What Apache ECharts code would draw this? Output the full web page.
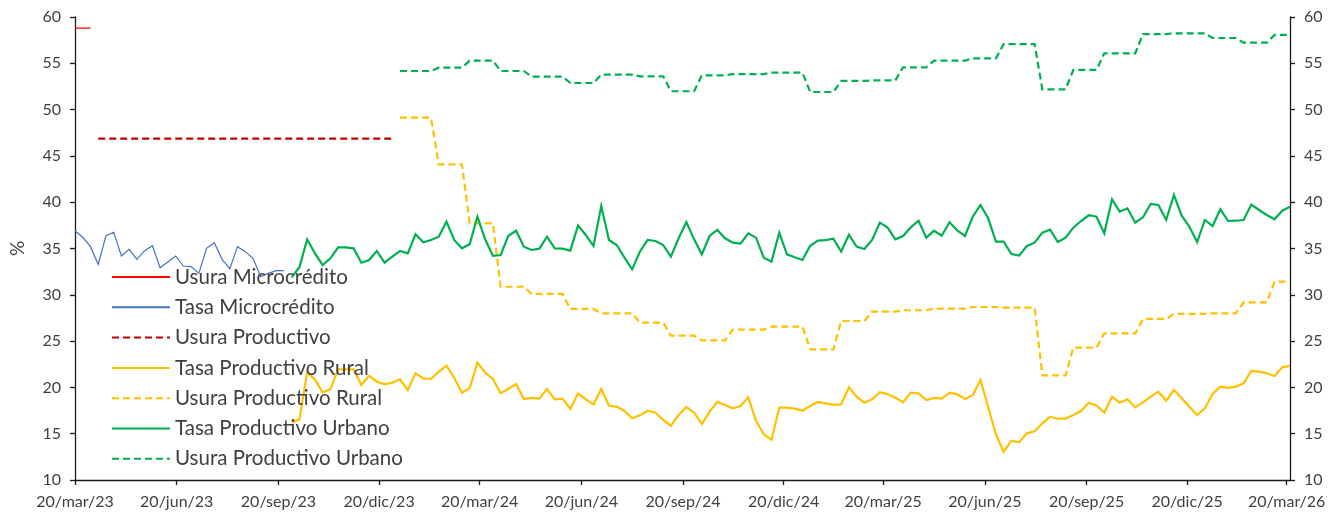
<!DOCTYPE html>
<html><head><meta charset="utf-8">
<script src="https://cdn.jsdelivr.net/npm/echarts@6/dist/echarts.min.js"></script>
<style>html,body{margin:0;padding:0;background:#fff}#c{width:1344px;height:515px}</style>
</head><body><div id="c"></div>
<script>
// ---- tick labels (quarterly) ----
const tickLabels = ['20/mar/23','20/jun/23','20/sep/23','20/dic/23','20/mar/24','20/jun/24','20/sep/24','20/dic/24','20/mar/25','20/jun/25','20/sep/25','20/dic/25','20/mar/26'];
const tickDates = ['2023-03-20','2023-06-20','2023-09-20','2023-12-20','2024-03-20','2024-06-20','2024-09-20','2024-12-20','2025-03-20','2025-06-20','2025-09-20','2025-12-20','2026-03-20'];
const startDate = '2023-03-20';
const lastWeek = 157; // weekly observations, index 0..157

// ---- series (weekly values, each with its first week index) ----
const usuraMicroStart = 0;
const usuraMicro = [58.8, 58.8, 58.8];

const tasaMicroStart = 0;
const tasaMicro = [36.92, 36.21, 35.20, 33.29, 36.38, 36.75, 34.19, 34.91, 33.83, 34.77, 35.30, 32.93, 33.54, 34.19, 33.11, 33.04, 32.32, 35.02, 35.63, 33.83, 32.82, 35.20, 34.66, 33.94, 31.96, 32.32, 32.61, 32.61];

const usuraProdStart = 3;
const usuraProd = [46.86, 46.86, 46.86, 46.86, 46.86, 46.86, 46.86, 46.86, 46.86, 46.86, 46.86, 46.86, 46.86, 46.86, 46.86, 46.86, 46.86, 46.86, 46.86, 46.86, 46.86, 46.86, 46.86, 46.86, 46.86, 46.86, 46.86, 46.86, 46.86, 46.86, 46.86, 46.86, 46.86, 46.86, 46.86, 46.86, 46.86, 46.86, 46.86];

const tasaRuralStart = 28;
const tasaRural = [16.20, 16.55, 21.59, 20.87, 19.47, 19.79, 21.95, 21.95, 21.95, 20.26, 21.26, 20.62, 20.33, 20.51, 20.87, 19.72, 21.52, 20.98, 20.91, 21.70, 22.35, 21.05, 19.43, 19.90, 22.67, 21.59, 20.91, 19.36, 19.86, 20.37, 18.75, 18.86, 18.78, 19.83, 18.71, 18.78,
  17.67, 19.36, 18.71, 18.17, 19.83, 18.02, 17.92, 17.45, 16.66, 16.98, 17.48, 17.27, 16.48, 15.87, 17.02, 17.88, 17.27, 16.05, 17.38, 18.43, 18.10, 17.74, 17.99, 18.93, 16.40, 14.94, 14.32, 17.81, 17.81, 17.70, 17.48, 17.99, 18.43,
  18.28, 18.13, 18.17, 20.01, 19.00, 18.35, 18.71, 19.47, 19.29, 18.89, 18.39, 19.43, 19.36, 18.64, 18.86, 18.78, 19.43, 19.25, 18.75, 19.15, 20.80, 17.85, 14.94, 13.06, 14.25, 14.07, 15.04, 15.26, 16.12, 16.84, 16.62, 16.62, 17.02, 17.45, 18.35,
  18.06, 17.27, 19.00, 18.35, 18.71, 17.85, 18.39, 19.00, 19.54, 18.57, 19.72, 18.82, 17.92, 17.02, 17.74, 19.29, 20.08, 19.94, 20.08, 20.44, 21.77, 21.70, 21.52, 21.23, 22.17, 22.31];

const usuraRuralStart = 42;
const usuraRural = [49.13, 49.13, 49.13, 49.13, 49.13, 44.09, 44.09, 44.09, 44.09, 37.72, 37.72, 37.72, 37.72, 30.87, 30.87, 30.87, 30.87,
  30.09, 30.09, 30.09, 30.09, 30.09, 28.47, 28.47, 28.47, 28.47, 28.00, 28.00, 28.00, 28.00, 28.00, 26.99, 26.99, 26.99, 26.99,
  25.59, 25.59, 25.59, 25.59, 25.08, 25.08, 25.08, 25.08, 26.24, 26.24, 26.24, 26.24, 26.24, 26.56, 26.56, 26.56, 26.56, 26.56,
  24.11, 24.11, 24.11, 24.11, 27.17, 27.17, 27.17, 27.17, 28.18, 28.18, 28.18, 28.18, 28.33, 28.33, 28.33, 28.33,
  28.50, 28.50, 28.50, 28.50, 28.50, 28.68, 28.68, 28.68, 28.68, 28.61, 28.61, 28.61, 28.61, 28.61, 21.30, 21.30, 21.30, 21.30,
  24.29, 24.29, 24.29, 24.29, 25.84, 25.84, 25.84, 25.84, 25.84, 27.39, 27.39, 27.39, 27.39, 27.93, 27.93, 27.93, 27.93, 27.93,
  28.00, 28.00, 28.00, 28.00, 29.19, 29.19, 29.19, 29.19, 31.42, 31.42, 31.42];

const tasaUrbanoStart = 28;
const tasaUrbano = [31.89, 32.97, 35.99, 34.48, 33.22, 33.94, 35.13, 35.13, 35.02, 33.47, 33.76, 34.73, 33.47, 34.12, 34.73, 34.48, 36.53, 35.67, 35.92, 36.28, 37.90, 35.92, 35.02, 35.45, 38.43, 35.99, 34.20, 34.30, 36.38, 36.92, 35.20, 34.84, 34.98, 36.28, 35.02, 34.98,
  34.77, 37.47, 36.46, 35.27, 39.59, 35.92, 35.38, 34.01, 32.75, 34.66, 35.92, 35.81, 35.38, 34.12, 36.10, 37.86, 35.99, 34.37, 36.35, 37.00, 36.10, 35.63, 35.52, 36.64, 36.17, 34.01, 33.58, 36.71, 34.37, 34.05, 33.76, 35.30, 35.85,
  35.90, 36.06, 34.66, 36.49, 35.20, 34.95, 35.92, 37.79, 37.25, 35.99, 36.35, 37.29, 38.00, 36.17, 36.92, 36.38, 37.83, 36.96, 36.35, 38.43, 39.70, 38.26, 35.74, 35.74, 34.41, 34.23, 35.27, 35.63, 36.71, 37.04, 35.70, 36.17, 37.25, 37.97, 38.59,
  38.43, 36.64, 40.31, 38.98, 39.34, 37.79, 38.37, 39.81, 39.70, 38.08, 40.78, 38.55, 37.35, 35.70, 38.08, 37.43, 39.23, 37.97, 38.00, 38.08, 39.74, 39.16, 38.62, 38.15, 39.08, 39.51];

const usuraUrbanoStart = 42;
const usuraUrbano = [54.17, 54.17, 54.17, 54.17, 54.17, 54.53, 54.53, 54.53, 54.53, 55.28, 55.28, 55.28, 55.28, 54.17, 54.17, 54.17, 54.17,
  53.56, 53.56, 53.56, 53.56, 53.56, 52.87, 52.87, 52.87, 52.87, 53.77, 53.77, 53.77, 53.77, 53.77, 53.59, 53.59, 53.59, 53.59,
  51.98, 51.98, 51.98, 51.98, 53.70, 53.70, 53.70, 53.70, 53.84, 53.84, 53.84, 53.84, 53.84, 53.99, 53.99, 53.99, 53.99, 53.99,
  51.90, 51.90, 51.90, 51.90, 53.10, 53.10, 53.10, 53.10, 53.15, 53.15, 53.15, 53.15, 54.57, 54.57, 54.57, 54.57,
  55.28, 55.28, 55.28, 55.28, 55.28, 55.54, 55.54, 55.54, 55.54, 57.08, 57.08, 57.08, 57.08, 57.08, 52.19, 52.19, 52.19, 52.19,
  54.28, 54.28, 54.28, 54.28, 56.08, 56.08, 56.08, 56.08, 56.08, 58.16, 58.16, 58.16, 58.16, 58.24, 58.24, 58.24, 58.24, 58.24,
  57.73, 57.73, 57.73, 57.73, 57.23, 57.23, 57.23, 57.23, 58.06, 58.06, 58.06];

// ---- build ----
const DAY = 86400000;
const t0 = Date.parse(startDate + 'T00:00:00Z');
const tickDays = tickDates.map(d => Math.round((Date.parse(d + 'T00:00:00Z') - t0) / DAY));
const toData = (start, arr) => arr.map((v, i) => [(start + i) * 7, v]);

const TXT = '#404040';
const FONT = 'Lato';
const AX = '#1a1a1a';

function mk(name, start, arr, color, width, dashed, z) {
  return {
    name, type: 'line', data: toData(start, arr), symbol: 'none', showSymbol: false,
    lineStyle: { color, width, type: dashed ? [7, 4] : 'solid', cap: 'butt', join: 'miter' },
    itemStyle: { color }, z: z, silent: true
  };
}

const chart = echarts.init(document.getElementById('c'), null, { renderer: 'canvas' });
const yAxisBase = {
  type: 'value', min: 10, max: 60, interval: 5,
  axisLine: { show: true, lineStyle: { color: AX, width: 1.3 } },
  axisTick: { show: true, inside: false, length: 5, lineStyle: { color: AX, width: 1.3 } },
  axisLabel: { color: TXT, fontSize: 16, fontFamily: FONT, margin: 14 },
  splitLine: { show: false }
};
chart.setOption({
  animation: false,
  backgroundColor: '#fff',
  grid: { left: 73, right: 54, top: 17, bottom: 35, containLabel: false },
  legend: {
    orient: 'vertical', left: 106, top: 261,
    itemWidth: 58, itemHeight: 12, itemGap: 8.3,
    itemStyle: { opacity: 0 },
    textStyle: { color: TXT, fontSize: 20.5, fontFamily: FONT, lineHeight: 22 },
    data: ['Usura Microcrédito', 'Tasa Microcrédito', 'Usura Productivo', 'Tasa Productivo Rural', 'Usura Productivo Rural', 'Tasa Productivo Urbano', 'Usura Productivo Urbano']
  },
  xAxis: {
    type: 'value', min: 0, max: lastWeek * 7,
    axisLine: { show: true, onZero: false, lineStyle: { color: AX, width: 1.3 } },
    axisTick: { show: true, inside: false, length: 5, customValues: tickDays, lineStyle: { color: AX, width: 1.3 } },
    axisLabel: {
      customValues: tickDays, color: TXT, fontSize: 16, fontFamily: FONT, margin: 14,
      formatter: (v) => { const k = tickDays.indexOf(Math.round(v)); return k >= 0 ? tickLabels[k] : ''; }
    },
    splitLine: { show: false }
  },
  yAxis: [
    Object.assign({}, yAxisBase, { position: 'left', name: '%', nameLocation: 'middle', nameGap: 48, nameRotate: 90,
      nameTextStyle: { color: TXT, fontSize: 19, fontFamily: FONT } }),
    Object.assign({}, yAxisBase, { position: 'right' })
  ],
  series: [
    mk('Usura Microcrédito', usuraMicroStart, usuraMicro, '#FF0000', 1.2, false, 3),
    mk('Tasa Microcrédito', tasaMicroStart, tasaMicro, '#4472C4', 1.2, false, 3),
    mk('Usura Productivo', usuraProdStart, usuraProd, '#C00000', 2.2, true, 2),
    mk('Tasa Productivo Rural', tasaRuralStart, tasaRural, '#FFC000', 2.2, false, 2),
    mk('Usura Productivo Rural', usuraRuralStart, usuraRural, '#FFC000', 2.2, true, 2),
    mk('Tasa Productivo Urbano', tasaUrbanoStart, tasaUrbano, '#00B050', 2.2, false, 2),
    mk('Usura Productivo Urbano', usuraUrbanoStart, usuraUrbano, '#00B050', 2.2, true, 2)
  ]
});
</script></body></html>
